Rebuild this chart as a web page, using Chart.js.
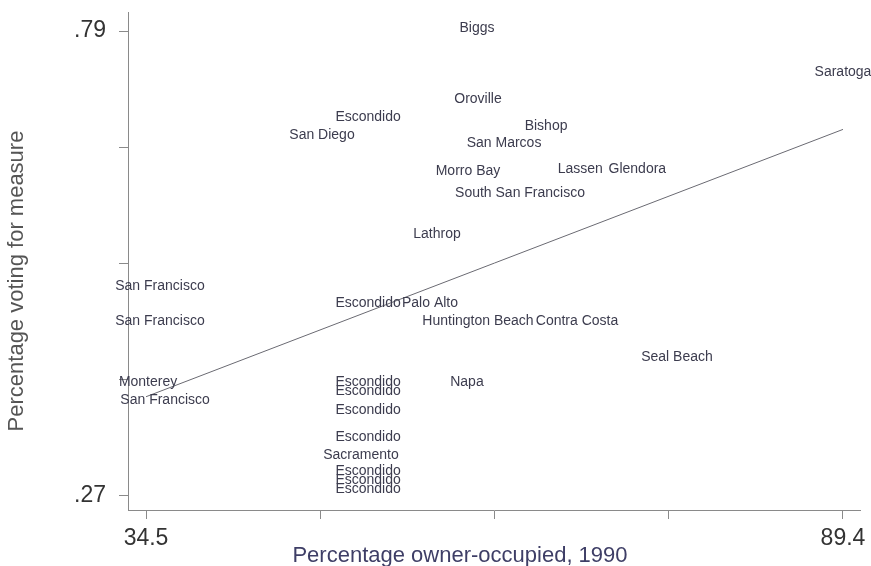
<!DOCTYPE html>
<html>
<head>
<meta charset="utf-8">
<script src="https://cdn.jsdelivr.net/npm/chart.js@4"></script>
<style>
  html, body { margin: 0; padding: 0; background: #fff; }
  #wrap { width: 871px; height: 566px; }
</style>
</head>
<body>
<div id="wrap"><canvas id="voteChart" width="871" height="566"></canvas></div>
<script>
// places, owner-occupied share (x) and vote share (y)
const cities = [
  'Biggs', 'Saratoga', 'Oroville', 'Escondido', 'San Diego', 'Bishop',
  'San Marcos', 'Morro Bay', 'Lassen', 'Glendora', 'South San Francisco',
  'Lathrop', 'San Francisco', 'San Francisco', 'Escondido', 'Palo Alto',
  'Huntington Beach', 'Contra Costa', 'Seal Beach', 'Napa', 'Monterey',
  'San Francisco', 'Escondido', 'Escondido', 'Escondido', 'Escondido',
  'Sacramento', 'Escondido', 'Escondido', 'Escondido'
];
const ownerOcc = [
  60.57, 89.4, 60.65, 51.99, 48.36, 66.01,
  62.70, 59.86, 68.7, 73.2, 63.96,
  57.42, 35.60, 35.60, 51.99, 56.87,
  60.65, 68.45, 76.32, 59.78, 34.66,
  36.0, 51.99, 51.99, 51.99, 51.99,
  51.43, 51.99, 51.99, 51.99
];
const voteShare = [
  0.793, 0.744, 0.714, 0.694, 0.674, 0.684,
  0.665, 0.633, 0.635, 0.635, 0.609,
  0.563, 0.505, 0.465, 0.486, 0.486,
  0.465, 0.465, 0.425, 0.397, 0.397,
  0.377, 0.397, 0.387, 0.366, 0.336,
  0.316, 0.298, 0.288, 0.278
];

// fitted regression line
const fitX = [34.5, 89.4];
const fitY = [0.381, 0.680];

const xTicks = [34.5, 48.225, 61.95, 75.675, 89.4];
const xTickLabels = ['34.5', '', '', '', '89.4'];
const yTicks = [0.27, 0.40, 0.53, 0.66, 0.79];
const yTickLabels = ['.27', '', '', '', '.79'];

const xTitle = 'Percentage owner-occupied, 1990';
const yTitle = 'Percentage voting for measure';

const FONT = '"Liberation Sans", Arial, Helvetica, sans-serif';

// write the city names at each point instead of markers
const cityLabels = {
  id: 'cityLabels',
  afterDatasetsDraw(chart) {
    const ctx = chart.ctx;
    const meta = chart.getDatasetMeta(0);
    ctx.save();
    ctx.font = '14px ' + FONT;
    ctx.fillStyle = '#3c3c4e';
    ctx.textAlign = 'center';
    ctx.textBaseline = 'middle';
    meta.data.forEach((pt, i) => {
      ctx.fillText(cities[i], pt.x, pt.y);
    });
    ctx.restore();
  }
};

const axisTitles = {
  id: 'axisTitles',
  afterDraw(chart) {
    const ctx = chart.ctx;
    ctx.save();
    ctx.font = '22px ' + FONT;
    ctx.textAlign = 'center';
    ctx.textBaseline = 'middle';
    ctx.fillStyle = '#3e3e66';
    ctx.fillText(xTitle, 460, 556);
    ctx.translate(17, 281);
    ctx.rotate(-Math.PI / 2);
    ctx.fillStyle = '#555';
    ctx.fillText(yTitle, 0, 0);
    ctx.restore();
  }
};

const ctx = document.getElementById('voteChart').getContext('2d');

const voteChart = new Chart(ctx, {
  type: 'scatter',
  data: {
    datasets: [{
      label: 'cities',
      data: ownerOcc.map((x, i) => ({ x: x, y: voteShare[i] })),
      pointRadius: 0,
      pointHoverRadius: 0
    }, {
      label: 'fit',
      data: fitX.map((x, i) => ({ x: x, y: fitY[i] })),
      showLine: true,
      borderColor: '#6a6a72',
      borderWidth: 1,
      pointRadius: 0
    }]
  },
  options: {
    responsive: false,
    animation: false,
    events: [],
    layout: { padding: { top: 12, right: 11, left: 0, bottom: 0 } },
    plugins: {
      legend: { display: false },
      tooltip: { enabled: false }
    },
    scales: {
      x: {
        type: 'linear',
        min: 33.08,
        max: 90.74,
        afterBuildTicks: (scale) => { scale.ticks = xTicks.map(v => ({ value: v })); },
        afterFit: (scale) => {
          scale.height = 56;
          scale.paddingLeft = 0;
          scale.paddingRight = 0;
        },
        ticks: {
          autoSkip: false,
          maxRotation: 0,
          padding: 8,
          color: '#333',
          font: { family: FONT, size: 23, lineHeight: 1 },
          callback: (v, i) => xTickLabels[i]
        },
        grid: { drawOnChartArea: false, drawTicks: true, tickLength: 9, color: '#8a8a8a' },
        border: { color: '#8a8a8a', width: 1 }
      },
      y: {
        type: 'linear',
        min: 0.2543,
        max: 0.8113,
        afterBuildTicks: (scale) => { scale.ticks = yTicks.map(v => ({ value: v })); },
        afterFit: (scale) => {
          scale.width = 128;
          scale.paddingTop = 0;
          scale.paddingBottom = 0;
        },
        ticks: {
          autoSkip: false,
          padding: 13,
          color: '#333',
          font: { family: FONT, size: 23, lineHeight: 1 },
          callback: (v, i) => yTickLabels[i]
        },
        grid: { drawOnChartArea: false, drawTicks: true, tickLength: 9, color: '#8a8a8a' },
        border: { color: '#8a8a8a', width: 1 }
      }
    }
  },
  plugins: [cityLabels, axisTitles]
});
</script>
</body>
</html>
